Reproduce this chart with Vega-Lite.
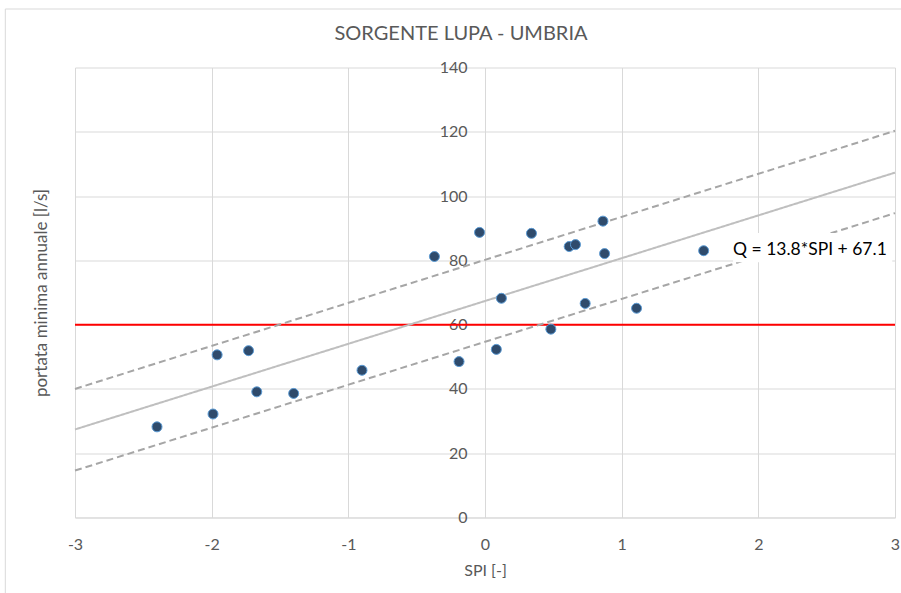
{
  "$schema": "https://vega.github.io/schema/vega-lite/v6.json",
  "width": 820,
  "height": 450,
  "autosize": "none",
  "padding": {"left": 75, "top": 67.5, "right": 6, "bottom": 75.5},
  "background": "white",
  "config": {"view": {"stroke": null}, "font": "Lato"},
  "title": {"text": "SORGENTE LUPA - UMBRIA", "frame": "group", "anchor": "middle", "baseline": "bottom", "fontSize": 20, "font": "Lato", "fontWeight": "normal", "color": "#595959", "offset": -55, "dx": -24},
  "datasets": {
    "points": [
      {"x": -2.40, "y": 28.2}, {"x": -1.99, "y": 32.2}, {"x": -1.96, "y": 50.6},
      {"x": -1.73, "y": 51.9}, {"x": -1.67, "y": 39.1}, {"x": -1.40, "y": 38.6},
      {"x": -0.90, "y": 45.8}, {"x": -0.37, "y": 81.2}, {"x": -0.19, "y": 48.5},
      {"x": -0.04, "y": 88.7}, {"x": 0.083, "y": 52.3}, {"x": 0.12, "y": 68.2},
      {"x": 0.34, "y": 88.4}, {"x": 0.482, "y": 58.6}, {"x": 0.616, "y": 84.3},
      {"x": 0.662, "y": 84.9}, {"x": 0.733, "y": 66.6}, {"x": 0.863, "y": 92.2},
      {"x": 0.875, "y": 82.1}, {"x": 1.109, "y": 65.1}, {"x": 1.60, "y": 83.0}
    ],
    "lines": [
      {"series": "fit", "x": -3, "y": 27.4}, {"series": "fit", "x": 3, "y": 107.3},
      {"series": "upper", "x": -3, "y": 40.0}, {"series": "upper", "x": 3, "y": 120.3},
      {"series": "lower", "x": -3, "y": 14.6}, {"series": "lower", "x": 3, "y": 94.7}
    ],
    "threshold": [{"y": 60}],
    "label": [{"label": "Q = 13.8*SPI + 67.1", "x": 1.815, "y": 83.2}]
  },
  "layer": [
    {
      "data": {"name": "threshold"},
      "mark": {"type": "rect", "fill": null, "stroke": "#d9d9d9", "strokeWidth": 1},
      "encoding": {
        "x": {"datum": -3.51, "type": "quantitative"},
        "x2": {"datum": 3.3},
        "y": {"datum": 158.2, "type": "quantitative"},
        "y2": {"datum": -40}
      }
    },
    {
      "data": {"name": "threshold"},
      "mark": {"type": "rule", "color": "#ff0000", "strokeWidth": 2},
      "encoding": {
        "y": {"field": "y", "type": "quantitative"}
      }
    },
    {
      "data": {"name": "lines"},
      "mark": {"type": "line", "strokeWidth": 2},
      "encoding": {
        "x": {
          "field": "x", "type": "quantitative",
          "scale": {"domain": [-3, 3], "nice": false, "zero": false},
          "title": "SPI [-]",
          "axis": {
            "values": [-3, -2, -1, 0, 1, 2, 3],
            "labelExpr": "'' + datum.value",
            "labelFlush": false,
            "grid": true, "gridColor": "#d9d9d9", "domainColor": "#d9d9d9",
            "ticks": false, "labelPadding": 19,
            "labelFontSize": 16, "labelColor": "#595959", "labelFont": "Lato",
            "titleFontSize": 16, "titleFontWeight": "normal", "titleColor": "#595959", "titleFont": "Lato",
            "titlePadding": 10
          }
        },
        "y": {
          "field": "y", "type": "quantitative",
          "scale": {"domain": [0, 140], "nice": false},
          "title": "portata minima annuale [l/s]",
          "axis": {
            "values": [0, 20, 40, 60, 80, 100, 120, 140],
            "offset": -410,
            "labelFlush": false,
            "grid": true, "gridColor": "#d9d9d9", "domainColor": "#d9d9d9",
            "ticks": false, "labelPadding": 18,
            "labelFontSize": 16, "labelColor": "#595959", "labelFont": "Lato",
            "titleFontSize": 17, "titleFontWeight": "normal", "titleColor": "#595959", "titleFont": "Lato",
            "titleX": -444, "titleY": 225, "titleBaseline": "middle", "titleAngle": -90
          }
        },
        "detail": {"field": "series"},
        "color": {"field": "series", "type": "nominal", "scale": {"domain": ["fit", "upper", "lower"], "range": ["#bfbfbf", "#a6a6a6", "#a6a6a6"]}, "legend": null},
        "strokeDash": {"field": "series", "type": "nominal", "scale": {"domain": ["fit", "upper", "lower"], "range": [[1, 0], [7, 4], [7, 4]]}, "legend": null}
      }
    },
    {
      "data": {"name": "label"},
      "mark": {"type": "rect", "fill": "white"},
      "encoding": {
        "x": {"field": "x", "type": "quantitative", "bandPosition": 0},
        "x2": {"datum": 2.98},
        "y": {"datum": 79.4, "type": "quantitative"},
        "y2": {"datum": 88.5}
      }
    },
    {
      "data": {"name": "label"},
      "mark": {"type": "text", "align": "left", "baseline": "middle", "fontSize": 17.5, "font": "Lato", "color": "#000000"},
      "encoding": {
        "x": {"field": "x", "type": "quantitative"},
        "y": {"field": "y", "type": "quantitative"},
        "text": {"field": "label"}
      }
    },
    {
      "data": {"name": "points"},
      "mark": {"type": "circle", "size": 100, "fill": "#2f4b6c", "stroke": "#5b9bd5", "strokeWidth": 1, "opacity": 1},
      "encoding": {
        "x": {"field": "x", "type": "quantitative"},
        "y": {"field": "y", "type": "quantitative"}
      }
    }
  ]
}
